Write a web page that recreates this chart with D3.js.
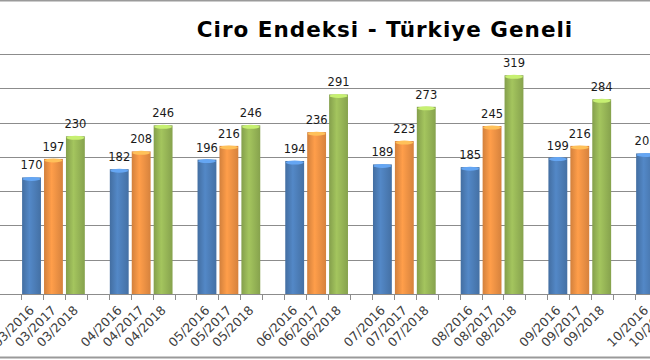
<!DOCTYPE html>
<html>
<head>
<meta charset="utf-8">
<script src="https://cdn.jsdelivr.net/npm/d3@7"></script>
<style>
  body { margin: 0; background: #fff; }
  svg { display: block; font-family: "DejaVu Sans", Verdana, sans-serif; }
  .grid line { stroke: #8c8c8c; stroke-width: 1; shape-rendering: crispEdges; }
  .title { font-weight: bold; font-size: 21.5px; letter-spacing: 1px; fill: #000; }
  .val { font-size: 11.5px; fill: #1a1a1a; text-anchor: middle; }
  .cat { font-size: 12.5px; fill: #404040; text-anchor: end; }
</style>
</head>
<body>
<svg class="chart" width="650" height="360"></svg>
<script>
(function () {
    // months shown, each with 2016 / 2017 / 2018 values
    var months = ["03", "04", "05", "06", "07", "08", "09", "10"];
    var years = ["2016", "2017", "2018"];
    var v2016 = [170, 182, 196, 194, 189, 185, 199, 205];
    var v2017 = [197, 208, 216, 236, 223, 245, 216, 226];
    var v2018 = [230, 246, 246, 291, 273, 319, 284, 300];
    var gridValues = [50, 100, 150, 200, 250, 300, 350];
    var colors = {"2016": "#4f81bd", "2017": "#f79646", "2018": "#9bbb59"};

    var series = {"2016": v2016, "2017": v2017, "2018": v2018};

    // category slots: a blank slot before each month group
    var slots = [];
    var bars = [];
    months.forEach(function (m, i) {
        slots.push("gap" + m);
        years.forEach(function (yr) {
            var key = m + "/" + yr;
            slots.push(key);
            bars.push({key: key, year: yr, value: series[yr][i]});
        });
    });

    var svg = d3.select(".chart"),
        baseY = 294,
        slotW = 21.93;

    var x = d3.scaleBand()
        .domain(slots)
        .range([-0.93, -0.93 + slotW * slots.length]);

    var y = d3.scaleLinear()
        .domain([0, 350])
        .range([baseY, 54]);

    // gradients for the cylinder-ish bars
    var defs = svg.append("defs");
    years.forEach(function (yr) {
        var c = d3.color(colors[yr]);
        var g = defs.append("linearGradient")
            .attr("id", "grad" + yr)
            .attr("x1", "0").attr("x2", "1").attr("y1", "0").attr("y2", "0");
        g.append("stop").attr("offset", "0%").attr("stop-color", c.darker(0.45));
        g.append("stop").attr("offset", "40%").attr("stop-color", c.brighter(0.15));
        g.append("stop").attr("offset", "100%").attr("stop-color", c.darker(0.4));
    });

    // frame lines
    svg.append("line").attr("x1", 0).attr("x2", 650).attr("y1", 0.5).attr("y2", 0.5)
        .attr("stroke", "#9a9a9a").attr("stroke-width", 2);
    svg.append("line").attr("x1", 0).attr("x2", 650).attr("y1", 357.5).attr("y2", 357.5)
        .attr("stroke", "#9a9a9a").attr("stroke-width", 2);

    // grid
    svg.append("g").attr("class", "grid")
        .selectAll("line")
        .data(gridValues)
        .enter()
        .append("line")
        .attr("x1", 0).attr("x2", 650)
        .attr("y1", function (d) { return Math.round(y(d)) + 0.5; })
        .attr("y2", function (d) { return Math.round(y(d)) + 0.5; });

    // bars
    var bw = x.bandwidth();
    var barG = svg.append("g");
    barG.selectAll("rect.bar")
        .data(bars)
        .enter()
        .append("rect")
        .attr("class", "bar")
        .attr("x", function (d) { return x(d.key) + bw * 0.05; })
        .attr("width", bw * 0.86)
        .attr("y", function (d) { return y(d.value); })
        .attr("height", function (d) { return baseY - y(d.value); })
        .attr("fill", function (d) { return "url(#grad" + d.year + ")"; });

    // light cap on top of each bar
    barG.selectAll("ellipse.cap")
        .data(bars)
        .enter()
        .append("ellipse")
        .attr("class", "cap")
        .attr("cx", function (d) { return x(d.key) + bw * 0.48; })
        .attr("cy", function (d) { return y(d.value) + 1.5; })
        .attr("rx", bw * 0.41)
        .attr("ry", 2)
        .attr("fill", function (d) { return d3.color(colors[d.year]).brighter(0.7); });

    // x axis
    svg.append("line")
        .attr("x1", 0).attr("x2", 650)
        .attr("y1", baseY + 0.5).attr("y2", baseY + 0.5)
        .attr("stroke", "#8c8c8c");

    svg.append("g").selectAll("line")
        .data(slots)
        .enter()
        .append("line")
        .attr("x1", function (d) { return Math.round(x(d)) + 0.5; })
        .attr("x2", function (d) { return Math.round(x(d)) + 0.5; })
        .attr("y1", baseY)
        .attr("y2", baseY + 6)
        .attr("stroke", "#8c8c8c");

    svg.append("g").selectAll("text")
        .data(bars)
        .enter()
        .append("text")
        .attr("class", "cat")
        .attr("transform", function (d) {
            return "translate(" + (x(d.key) + bw / 2 + 3) + "," + (baseY + 17) + ") rotate(-45)";
        })
        .text(function (d) { return d.key; });

    // value labels
    svg.append("g").selectAll("text")
        .data(bars)
        .enter()
        .append("text")
        .attr("class", "val")
        .attr("x", function (d) { return x(d.key) + bw * 0.48; })
        .attr("y", function (d) { return y(d.value) - 8; })
        .text(function (d) { return d.value; });

    svg.append("text")
        .attr("class", "title")
        .attr("x", 385)
        .attr("y", 37)
        .attr("text-anchor", "middle")
        .text("Ciro Endeksi - Türkiye Geneli");
})();
</script>
</body>
</html>
